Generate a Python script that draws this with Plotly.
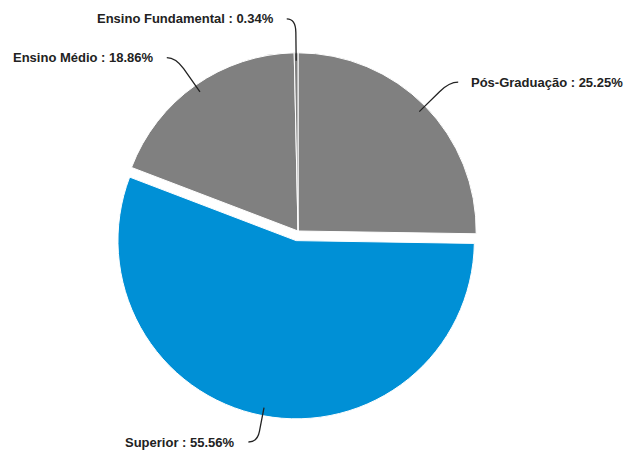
import math
import plotly.graph_objects as go

labels = ["Pós-Graduação", "Superior", "Ensino Médio", "Ensino Fundamental"]
values = [25.25, 55.56, 18.86, 0.34]
colors = ["#808080", "#0090d6", "#808080", "#808080"]
pulls = [0, 0.055, 0, 0]

W, H = 628, 450
cx, cy = 298, 231          # pie centre in px (from top-left)
dom_h = 376                # domain height in px
dom = dict(x=[0, (2 * cx) / W], y=[(H - cy - dom_h / 2) / H, (H - cy + dom_h / 2) / H])
r = dom_h / (2 + 2 * max(pulls))

fig = go.Figure(go.Pie(
    labels=labels, values=values, sort=False, direction="clockwise", rotation=0,
    pull=pulls, textinfo="none", hoverinfo="label+percent",
    marker=dict(colors=colors, line=dict(color="white", width=1)),
    domain=dom, showlegend=False,
))

def px(x, y):
    return x / W, 1 - y / H

shapes, annots = [], []
total = sum(values)
cum = 0.0
ext, horiz, gap = 34, 9, 11
ymax = H - 8
for lab, v, p in zip(labels, values, pulls):
    mid = (cum + v / 2) / total * 2 * math.pi
    cum += v
    dx, dy = math.sin(mid), -math.cos(mid)
    ox, oy = cx + dx * p * r, cy + dy * p * r
    x0, y0 = ox + dx * (r - 8), oy + dy * (r - 8)
    e = ext
    if oy + dy * (r + e) > ymax:
        e = (ymax - oy) / dy - r
    xa, ya = ox + dx * (r + e * 0.6), oy + dy * (r + e * 0.6)
    x1, y1 = ox + dx * (r + e), oy + dy * (r + e)
    side = 1 if dx > 0.001 else -1
    x2, y2 = x1 + side * horiz, y1
    pts = [px(*q) for q in [(x0, y0), (xa, ya), (x1, y1), (x2, y2)]]
    path = "M {:.4f} {:.4f} L {:.4f} {:.4f} Q {:.4f} {:.4f} {:.4f} {:.4f}".format(
        *pts[0], *pts[1], *pts[2], *pts[3])
    shapes.append(dict(type="path", path=path, xref="paper", yref="paper",
                       line=dict(color="#222222", width=1.3)))
    tx, ty = px(x2 + side * gap, y2)
    annots.append(dict(x=tx, y=ty, xref="paper", yref="paper", showarrow=False,
                       xanchor="left" if side > 0 else "right", yanchor="middle",
                       text=f"{lab} : {v:.2f}%",
                       font=dict(family="Liberation Sans, Arial", size=13,
                                 color="#222222", weight="bold")))

fig.update_layout(width=W, height=H, margin=dict(l=0, r=0, t=0, b=0),
                  paper_bgcolor="white", plot_bgcolor="white",
                  shapes=shapes, annotations=annots)
fig.write_html("out.html")
